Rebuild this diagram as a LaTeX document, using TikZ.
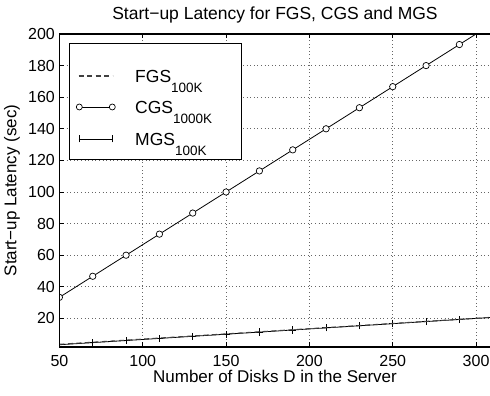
\documentclass[tikz,border=0pt]{standalone}
\usepackage{fontspec}
\setmainfont{Liberation Sans}
\begin{document}
\begin{tikzpicture}[x=1pt,y=1pt,
  axisline/.style={line width=1.6pt},
  tickmark/.style={line width=0.7pt},
  gridline/.style={draw=black!60, line width=0.6pt, dash pattern=on 0.8pt off 2.8pt},
  ticklabel/.style={font=\fontsize{16}{16}\selectfont, inner sep=0pt},
  axislabel/.style={font=\fontsize{17}{17}\selectfont, inner sep=0pt},
  legendtext/.style={font=\fontsize{17.5}{17.5}\selectfont, inner sep=0pt, anchor=base west},
  plotline/.style={line width=0.8pt},
  fgsline/.style={line width=1.1pt, draw=black!75, dash pattern=on 5pt off 3.5pt},
  ringmark/.style={line width=0.7pt, fill=white}
]
\newcommand{\subtext}[1]{\raisebox{-9.7pt}{\fontsize{13.5}{13.5}\selectfont #1}}
\useasboundingbox (0,0) rectangle (490,396);

% data coordinates: D on x, latency on y
\begin{scope}[x=1.6667pt,y=1.58pt,xshift=-23.935pt,yshift=46pt]
  % grid
  \foreach \d in {100,150,...,300} \draw[gridline] (\d,2) -- (\d,200);
  \foreach \v in {20,40,...,180} \draw[gridline] (50,\v) -- (320,\v);
  % ticks
  \foreach \d in {50,100,...,300} {
    \draw[tickmark] (\d,2) -- ++(0pt,4.5pt);
    \draw[tickmark] (\d,200) -- ++(0pt,-4.5pt);
    \node[ticklabel, anchor=base] (xt\d) at ([yshift=-19.3pt]\d,2) {\d};
  }
  \foreach \v in {20,40,...,200} {
    \draw[tickmark] (50,\v) -- ++(4.5pt,0pt);
    \node[ticklabel, anchor=east] (yt\v) at ([xshift=-4.4pt]50,\v) {\v};
  }
  % curves
  \begin{scope}
    \clip (50,2) rectangle (330,200);
    \draw[plotline] (50,33.333) -- (310,206.667);
    \foreach \d in {50,70,...,290}
      \draw[ringmark] (\d,{\d*2/3}) circle[radius=3.2pt];
    \draw[plotline] (50,3.333) -- (320,21.333);
    \foreach \d in {50,70,...,290}
      \draw[plotline] (\d,{\d/15}) ++(-3.6pt,0pt) -- ++(7.2pt,0pt)
                      (\d,{\d/15}) ++(0pt,-3.6pt) -- ++(0pt,7.2pt);
    \draw[fgsline] (50,3.6) -- (320,21.4);
  \end{scope}
  % axes
  \draw[axisline] (50,200) -- (50,2) -- (330,2);
  \draw[axisline] (50,200) -- (330,200);
\end{scope}

% legend
\draw[fill=white, line width=0.9pt] (69.7,352.7) rectangle (241,237);
\draw[fgsline] (78.5,320) -- (112.5,320);
\draw[plotline] (79.3,289) -- (112.3,289);
\draw[ringmark] (79.3,289) circle[radius=3pt];
\draw[ringmark] (112.3,289) circle[radius=3pt];
\draw[plotline] (78.5,257) -- (113,257)
  (79.3,253.5) -- (79.3,260.5) (112.3,253.5) -- (112.3,260.5);
\node[legendtext] (lf) at (135,313.3) {FGS\subtext{100K}};
\node[legendtext] (lc) at (135,282.3) {CGS\subtext{1000K}};
\node[legendtext] (lm) at (135,250.3) {MGS\subtext{100K}};

% titles
\node[font=\fontsize{17.5}{17.5}\selectfont, inner sep=0pt, anchor=base] (title) at (275,376.5) {Start−up Latency for FGS, CGS and MGS};
\node[axislabel, anchor=base] (xlabel) at (275,13) {Number of Disks D in the Server};
\node[axislabel, rotate=90, anchor=center] (ylabel) at (12,205.5) {Start−up Latency (sec)};
\end{tikzpicture}
\end{document}
